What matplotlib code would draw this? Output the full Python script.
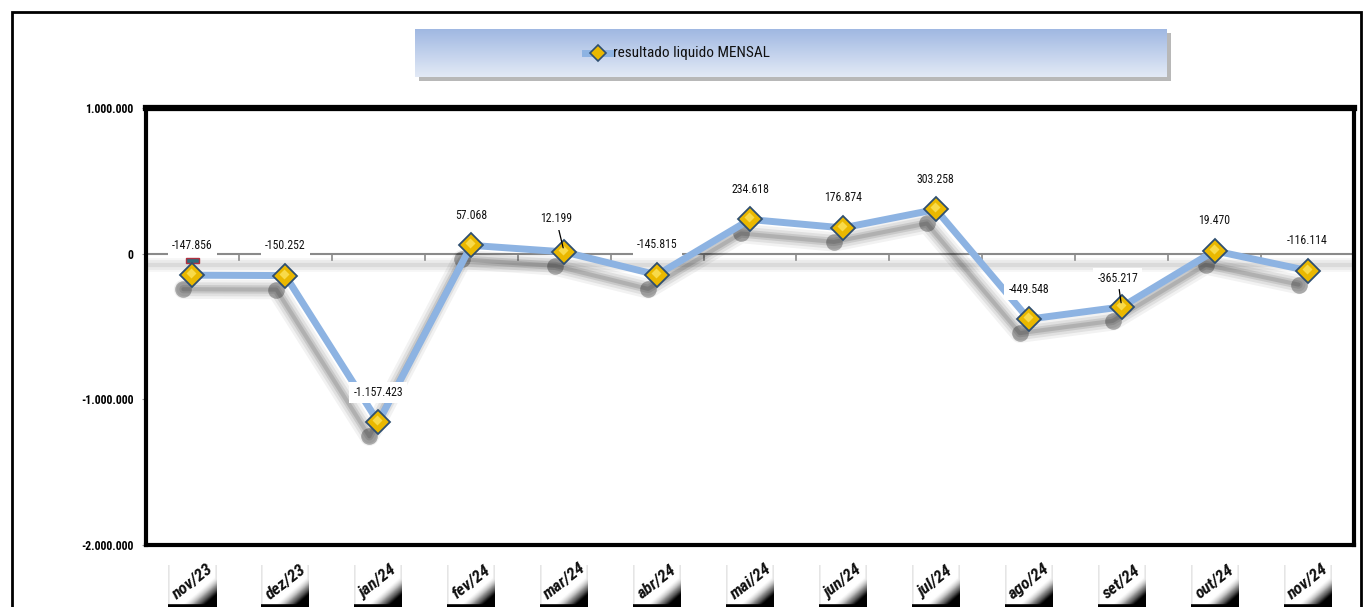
import numpy as np
import matplotlib
matplotlib.use('Agg')
from matplotlib import pyplot as plt
from matplotlib import font_manager, transforms
from matplotlib.patches import Rectangle
from matplotlib.ticker import FuncFormatter, FixedLocator

# data
meses = ['nov/23', 'dez/23', 'jan/24', 'fev/24', 'mar/24', 'abr/24', 'mai/24',
         'jun/24', 'jul/24', 'ago/24', 'set/24', 'out/24', 'nov/24']
resultado = [-147856, -150252, -1157423, 57068, 12199, -145815, 234618,
             176874, 303258, -449548, -365217, 19470, -116114]
rotulos = ['-147.856', '-150.252', '-1.157.423', '57.068', '12.199', '-145.815', '234.618',
           '176.874', '303.258', '-449.548', '-365.217', '19.470', '-116.114']

nomes = {f.name for f in font_manager.fontManager.ttflist}
estreita = None
for nome in ['Roboto Condensed', 'Liberation Sans Narrow', 'Open Sans Condensed']:
    if nome in nomes:
        estreita = nome
        break
if estreita:
    plt.rcParams['font.family'] = [estreita, 'DejaVu Sans']
    fs_rot, fs_y, fs_x, fs_leg = 8.5, 8.5, 12.5, 11
    leg_font = [estreita, 'DejaVu Sans']
else:
    plt.rcParams['font.family'] = ['Liberation Sans', 'DejaVu Sans']
    fs_rot, fs_y, fs_x, fs_leg = 7.5, 7.5, 10, 9.5
    leg_font = ['Lato', 'DejaVu Sans']

fig = plt.figure(figsize=(13.67, 6.07), dpi=100)
W, H = 1367, 607

# outer frame
fig.patches.append(Rectangle((12 / W, -0.05), 1349 / W, 1 - 12 / H + 0.05,
                             transform=fig.transFigure, fill=False, ec='black', lw=2))

ax = fig.add_axes([146 / W, 1 - 545 / H, 1208 / W, 437 / H])
x = np.arange(len(meses))
n = len(meses)

def desloc(dx, dy):
    # offset in pixels
    return ax.transData + transforms.ScaledTranslation(dx / 100, -dy / 100, fig.dpi_scale_trans)

# zero line and its soft shadow
for lw_, a in [(10, 0.05), (7, 0.07), (3, 0.1)]:
    ax.plot([-0.5, n - 0.5], [0, 0], color='#555555', lw=lw_, alpha=a, zorder=1,
            transform=desloc(0, 11), solid_capstyle='butt')
ax.axhline(0, color='#8a8a8a', lw=1.5, zorder=2)
for b in np.arange(0.5, n - 1, 1):
    ax.plot([b, b], [0, -45000], color='#8a8a8a', lw=1.2, zorder=2)

# little mark near nov/23
ax.add_patch(Rectangle((-0.065, -62000), 0.13, 30000, fc='#2f6b7c', ec='#b03040', lw=1, zorder=3))

# blurred shadow of the series
for lw_, a in [(14, 0.05), (10, 0.07), (6, 0.1), (3, 0.12)]:
    ax.plot(x, resultado, color='black', lw=lw_, alpha=a, zorder=3,
            solid_capstyle='round', transform=desloc(-9, 14))
ax.plot(x, resultado, ls='none', marker='o', ms=12, color='black', alpha=0.3, mew=0,
        zorder=3, transform=desloc(-9, 14))

# the series
ax.plot(x, resultado, color='#8db3e2', lw=5, zorder=4)
ax.plot(x, resultado, ls='none', marker='D', ms=12, mfc='#eab800', mec='#2f4f70',
        mew=1.3, zorder=5)
ax.plot(x, resultado, ls='none', marker='D', ms=5, mfc='#f8da4a', mec='none',
        zorder=5, transform=desloc(-1, -2))

for i, (v, t) in enumerate(zip(resultado, rotulos)):
    dx, dy = 0, 30
    arrow = None
    if meses[i] == 'mar/24':
        dx, dy = -8, 33
        arrow = dict(arrowstyle='-', color='black', lw=0.9, shrinkA=0, shrinkB=3)
    if meses[i] == 'set/24':
        dx, dy = -4, 28
        arrow = dict(arrowstyle='-', color='black', lw=0.9, shrinkA=0, shrinkB=3)
    ax.annotate(t, (i, v), xytext=(dx, dy), textcoords='offset pixels',
                ha='center', va='center', fontsize=fs_rot, color='#111111', zorder=6,
                bbox=dict(boxstyle='square,pad=0.35', fc='white', ec='none'),
                arrowprops=arrow)

ax.set_xlim(-0.5, n - 0.5)
ax.set_ylim(-2000000, 1000000)
ax.yaxis.set_major_locator(FixedLocator([-2000000, -1000000, 0, 1000000]))
ax.yaxis.set_major_formatter(FuncFormatter(lambda v, p: f'{int(v):,}'.replace(',', '.')))
ax.tick_params(axis='y', length=3, color='#999999', labelsize=fs_y, pad=6)
for lab in ax.get_yticklabels():
    lab.set_fontweight('bold')
ax.set_xticks([])

for s in ['left', 'right', 'bottom']:
    ax.spines[s].set_linewidth(3)
ax.spines['top'].set_linewidth(4.5)

# x labels in little shaded boxes
uu, vv = np.meshgrid(np.linspace(0, 1, 60), np.linspace(0, 1, 60))
sombra = np.clip((uu + vv - 1.25) * 2.2, 0, 1)
sombra[:, :2] = np.maximum(sombra[:, :2], 0.18)
sombra[:, -2:] = np.maximum(sombra[:, -2:], 0.18)
sombra[-4:, :] = 1.0
for i, m in enumerate(meses):
    px = 146 + (i + 0.5) * 1208 / n
    bx = fig.add_axes([(px - 24) / W, 0, 48 / W, 42 / H])
    bx.imshow(sombra, cmap='Greys', vmin=0, vmax=1, aspect='auto', extent=[0, 1, 0, 1])
    bx.set_xlim(0, 1)
    bx.set_ylim(0, 1)
    bx.axis('off')
    bx.text(0.5, 0.6, m, ha='center', va='center', rotation=38,
            fontsize=fs_x, fontweight='bold', fontstyle='italic', color='#111111',
            transform=bx.transAxes, clip_on=False)

# legend box with gradient
lx, ly, lw_, lh = 415, 29, 752, 48
sh = fig.add_axes([(lx + 4) / W, 1 - (ly + lh + 4) / H, lw_ / W, lh / H])
sh.set_facecolor('#8a8a8a')
sh.patch.set_alpha(0.6)
sh.set_xticks([])
sh.set_yticks([])
for s in sh.spines.values():
    s.set_visible(False)
lax = fig.add_axes([lx / W, 1 - (ly + lh) / H, lw_ / W, lh / H])
grad = np.linspace(0, 1, 100).reshape(-1, 1)
cmap = matplotlib.colors.LinearSegmentedColormap.from_list('g', ['#a0b8e2', '#e3eaf6'])
lax.imshow(grad, aspect='auto', cmap=cmap, extent=[0, 1, 0, 1])
lax.set_xlim(0, 1)
lax.set_ylim(0, 1)
lax.axis('off')
lax.plot([170 / lw_, 196 / lw_], [0.5, 0.5], color='#8db3e2', lw=5)
lax.plot([183 / lw_], [0.5], marker='D', ms=8, mfc='#eab800', mec='#2f4f70', mew=1.2)
lax.text(198 / lw_, 0.5, 'resultado liquido MENSAL', va='center', ha='left',
         fontsize=fs_leg, family=leg_font, color='#111111')

plt.savefig('out.png', dpi=100)
